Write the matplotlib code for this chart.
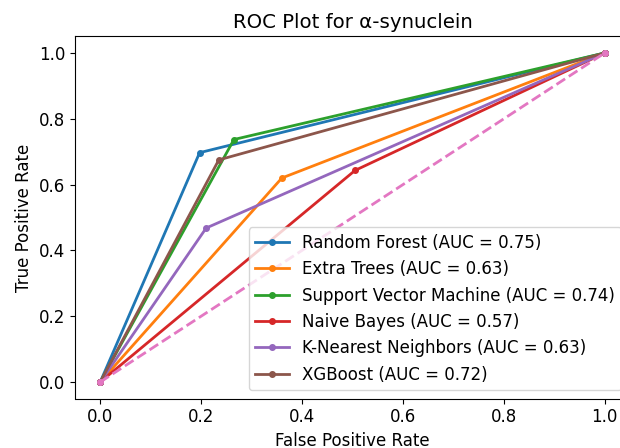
import matplotlib
matplotlib.use("Agg")
import matplotlib.pyplot as plt

models = ["Random Forest", "Extra Trees", "Support Vector Machine",
          "Naive Bayes", "K-Nearest Neighbors", "XGBoost"]
fpr_mid = [0.197, 0.360, 0.265, 0.505, 0.210, 0.235]
tpr_mid = [0.697, 0.620, 0.737, 0.643, 0.468, 0.675]
auc = [0.75, 0.63, 0.74, 0.57, 0.63, 0.72]

fig = plt.figure(figsize=(6.2, 4.48), dpi=100)
ax = fig.add_axes([75 / 620, 49.5 / 448, 555 / 620, 362 / 448])

for name, f, t, a in zip(models, fpr_mid, tpr_mid, auc):
    ax.plot([0, f, 1], [0, t, 1], marker="o", markersize=4, lw=2,
            label=f"{name} (AUC = {a:.2f})")

ax.plot([0, 1], [0, 1], linestyle="--", marker="o", markersize=4, lw=2)

ax.set_title("ROC Plot for α-synuclein", fontsize=14.2)
ax.set_xlabel("False Positive Rate", fontsize=12)
ax.set_ylabel("True Positive Rate", fontsize=12)
ax.tick_params(labelsize=12)
ax.legend(loc="lower right", fontsize=12)

fig.savefig("out.png", dpi=100)
